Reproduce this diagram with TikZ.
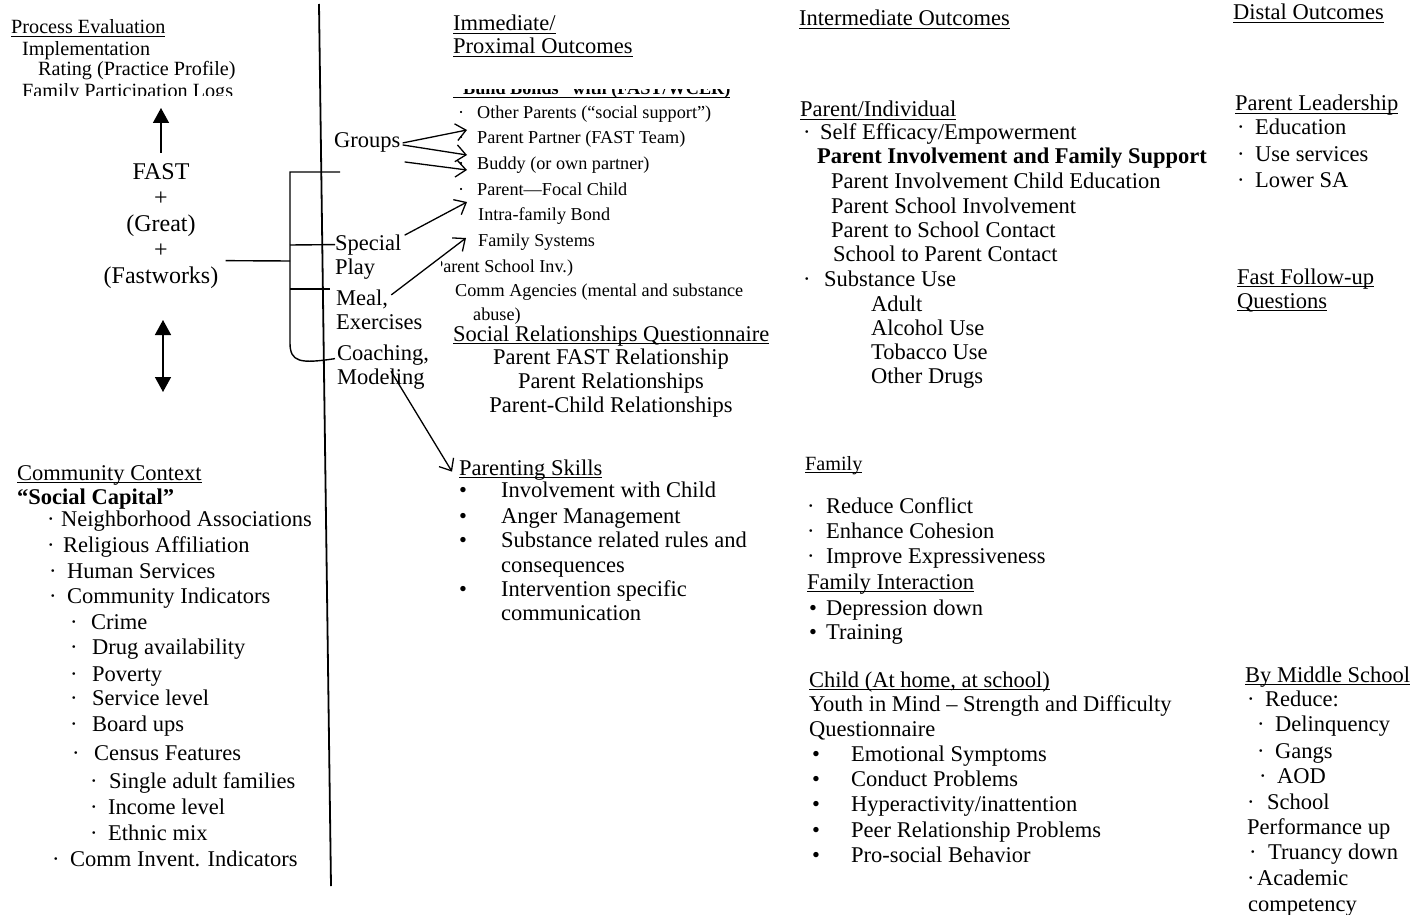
\documentclass[tikz,border=0pt]{standalone}
\usepackage{fontspec}
\setmainfont{Liberation Serif}
\usetikzlibrary{arrows.meta}
\newlength\ulw
\newcommand\myul[1]{\settowidth\ulw{#1}\rlap{\rule[-3pt]{\ulw}{1.2pt}}#1}
\newcommand\bu[1]{\makebox[#1pt][l]{·}}
\newcommand\bbu[1]{\makebox[#1pt][l]{•}}
\begin{document}
\begin{tikzpicture}[x=1pt,y=-1pt,
 every node/.style={inner sep=0pt, anchor=base west},
 m/.style={font=\fontsize{22.5}{24}\selectfont},
 mb/.style={font=\fontsize{22.5}{24}\selectfont\bfseries},
 p/.style={font=\fontsize{20.2}{22}\selectfont},
 s/.style={font=\fontsize{18.2}{20}\selectfont},
 sb/.style={font=\fontsize{18.2}{20}\selectfont\bfseries},
 big/.style={font=\fontsize{24}{26}\selectfont, anchor=base},
 mc/.style={font=\fontsize{22.5}{24}\selectfont, anchor=base},
 ln/.style={line width=1.4pt},
 tri/.style={line width=1.5pt, -{Triangle[width=16pt,length=15pt]}},
 tritwo/.style={line width=1.5pt, {Triangle[width=16pt,length=15pt]}-{Triangle[width=16pt,length=15pt]}},
 barb/.style={line width=1.3pt, -{Straight Barb[length=10pt,width=17pt]}},
]
\useasboundingbox (0,0) rectangle (1414,915);
\fill[white] (0,0) rectangle (1414,915);

% ---------- left column: process evaluation ----------
\node[p] (pe) at (11,34) {\myul{Process Evaluation}};
\node[p] (impl) at (22,56) {Implementation};
\node[p] (rating) at (38,76) {Rating (Practice Profile)};
\begin{scope}
\clip (0,0) rectangle (300,96);
\node[p] (logs) at (22,98) {Family Participation Logs};
\end{scope}

% ---------- FAST block ----------
\node[big] (f1) at (161,179) {FAST};
\node[big] (f2) at (161,205) {+};
\node[big] (f3) at (161,231) {(Great)};
\node[big] (f4) at (161,257) {+};
\node[big] (f5) at (161,283) {(Fastworks)};
\coordinate (uptip) at (161,108);
\draw[tri] ([yshift=10pt]f1.north) -- (uptip);
\coordinate (da1) at (163,320);
\coordinate (da2) at (163,392);
\draw[tritwo] (da1) -- (da2);

% ---------- divider ----------
\draw[line width=1.8pt] (319,4) -- (331,886);

% ---------- activities ----------
\node[m] (grp) at (334,148) {Groups};
\node[m] (sp1) at (335,250) {Special};
\node[m] (sp2) at (335,274) {Play};
\node[m] (me1) at (336,305) {Meal,};
\node[m] (me2) at (336,329) {Exercises};
\node[m] (co1) at (337,360) {Coaching,};
\node[m] (co2) at (337,384) {Modeling};

% bracket
\coordinate (brt) at (290,172);
\coordinate (brtop) at (340,172);
\coordinate (brm) at (290,289);
\coordinate (brme) at (330,289);
\coordinate (brf) at (290,261);
\draw[ln] (brtop) -- (brt) -- (290,343) .. controls (290,362) and (300,364) .. ([shift={(-2,4)}]co1.west);
\draw[ln] (290,245) -- (sp1.west);
\draw[ln] (brm) -- (brme);
\draw[ln] ([shift={(7,-5.5)}]f5.north east) -- (brf);

% ---------- immediate outcomes ----------
\node[m] (im1) at (453,31) {\myul{Immediate/}};
\node[m] (im2) at (453,54) {\myul{Proximal Outcomes}};
\begin{scope}
\clip (440,89.5) rectangle (760,100);
\node[sb] (bb) at (453,95) {\myul{\hspace{10pt}Build Bonds” with (FAST/WCER)}};
\end{scope}
\node[s] (op) at (458,119) {\bu{19}Other Parents (“social support”)};
\node[s] (pp) at (458,144) {\bu{19}Parent Partner (FAST Team)};
\node[s] (bud) at (458,170) {\bu{19}Buddy (or own partner)};
\node[s] (pf) at (458,195) {\bu{19}Parent—Focal Child};
\node[s] (ib) at (478,220) {Intra-family Bond};
\node[s] (fs) at (478,246) {Family Systems};
\begin{scope}
\clip (441,255) rectangle (700,280);
\node[s] (psi) at (433,272) {Parent School Inv.)};
\end{scope}
\node[s] (ca) at (455,296) {Comm Agencies (mental and substance};
\node[s] (ab) at (473,320) {abuse)};
\node[m] (srq) at (453,341) {\myul{Social Relationships Questionnaire}};
\node[mc] (r1) at (611,364) {Parent FAST Relationship};
\node[mc] (r2) at (611,388) {Parent Relationships};
\node[mc] (r3) at (611,412) {Parent-Child Relationships};

\node[m] (psk) at (459,475) {\myul{Parenting Skills}};
\node[m] (k1) at (459,497) {\bbu{42}Involvement with Child};
\node[m] (k2) at (459,523) {\bbu{42}Anger Management};
\node[m] (k3) at (459,547) {\bbu{42}Substance related rules and};
\node[m] (k4) at (501,572) {consequences};
\node[m] (k5) at (459,596) {\bbu{42}Intervention specific};
\node[m] (k6) at (501,620) {communication};

% arrows from activities
\coordinate (ga) at (467,130);
\coordinate (gb) at (467,155);
\coordinate (gc) at (467,170);
\coordinate (gd) at (467,202);
\coordinate (ge) at (466,238);
\draw[barb] ([shift={(2,0)}]grp.east) -- (ga);
\draw[barb] ([shift={(2,2)}]grp.east) -- (gb);
\draw[barb] ([shift={(4,19)}]grp.east) -- (gc);
\draw[barb] ([shift={(3,1)}]sp1.north east) -- (gd);
\draw[barb] ([shift={(3,-4)}]me1.east) -- (ge);
\draw[barb] ([shift={(10,3)}]co2.north) -- ([shift={(-7,2)}]psk.west);

% ---------- intermediate outcomes ----------
\node[m] (io) at (799,26) {\myul{Intermediate Outcomes}};
\node[m] (pi) at (800,117) {\myul{Parent/Individual}};
\node[m] (se) at (803,140) {\bu{17}Self Efficacy/Empowerment};
\node[mb] (pif) at (817,164) {Parent Involvement and Family Support};
\node[m] (i1) at (831,188) {Parent Involvement Child Education};
\node[m] (i2) at (831,213) {Parent School Involvement};
\node[m] (i3) at (831,237) {Parent to School Contact};
\node[m] (i4) at (833,261) {School to Parent Contact};
\node[m] (su) at (803,286) {\bu{21}Substance Use};
\node[m] (u1) at (871,311) {Adult};
\node[m] (u2) at (871,335) {Alcohol Use};
\node[m] (u3) at (871,359) {Tobacco Use};
\node[m] (u4) at (871,383) {Other Drugs};

\node[p] (fam) at (805,470) {\myul{Family}};
\node[m] (fa1) at (807,513) {\bu{19}Reduce Conflict};
\node[m] (fa2) at (807,538) {\bu{19}Enhance Cohesion};
\node[m] (fa3) at (807,563) {\bu{19}Improve Expressiveness};
\node[m] (fi) at (807,589) {\myul{Family Interaction}};
\node[m] (fi1) at (809,615) {\bbu{17}Depression down};
\node[m] (fi2) at (809,639) {\bbu{17}Training};

\node[m] (ch) at (809,687) {\myul{Child (At home, at school)}};
\node[m] (y1) at (809,711) {Youth in Mind – Strength and Difficulty};
\node[m] (y2) at (809,736) {Questionnaire};
\node[m] (ch1) at (812,761) {\bbu{39}Emotional Symptoms};
\node[m] (ch2) at (812,786) {\bbu{39}Conduct Problems};
\node[m] (ch3) at (812,811) {\bbu{39}Hyperactivity/inattention};
\node[m] (ch4) at (812,837) {\bbu{39}Peer Relationship Problems};
\node[m] (ch5) at (812,862) {\bbu{39}Pro-social Behavior};

% ---------- distal outcomes ----------
\node[m] (do) at (1233,20) {\myul{Distal Outcomes}};
\node[m] (pl) at (1235,111) {\myul{Parent Leadership}};
\node[m] (pl1) at (1237,135) {\bu{18}Education};
\node[m] (pl2) at (1237,161) {\bu{18}Use services};
\node[m] (pl3) at (1237,187) {\bu{18}Lower SA};
\node[m] (ff1) at (1237,284) {\myul{Fast Follow-up}};
\node[m] (ff2) at (1237,308) {\myul{Questions}};
\node[m] (ms) at (1245,682) {\myul{By Middle School}};
\node[m] (ms1) at (1247,706) {\bu{18}Reduce:};
\node[m] (ms2) at (1257,731) {\bu{18}Delinquency};
\node[m] (ms3) at (1257,758) {\bu{18}Gangs};
\node[m] (ms4) at (1259,783) {\bu{18}AOD};
\node[m] (ms5) at (1247,809) {\bu{20}School};
\node[m] (ms6) at (1247,834) {Performance up};
\node[m] (ms7) at (1249,859) {\bu{19}Truancy down};
\node[m] (ms8) at (1247,885) {\bu{10}Academic};
\node[m] (ms9) at (1248,911) {competency};

% ---------- community context ----------
\node[m] (cc) at (17,480) {\myul{Community Context}};
\node[mb] (sc) at (17,504) {“Social Capital”};
\node[m] (c1) at (47,526) {\bu{14}Neighborhood Associations};
\node[m] (c2) at (47,552) {\bu{16}Religious Affiliation};
\node[m] (c3) at (49,578) {\bu{18}Human Services};
\node[m] (c4) at (49,603) {\bu{18}Community Indicators};
\node[m] (c5) at (70,629) {\bu{21}Crime};
\node[m] (c6) at (70,654) {\bu{22}Drug availability};
\node[m] (c7) at (70,681) {\bu{22}Poverty};
\node[m] (c8) at (70,705) {\bu{22}Service level};
\node[m] (c9) at (70,731) {\bu{22}Board ups};
\node[m] (c10) at (72,760) {\bu{22}Census Features};
\node[m] (c11) at (90,788) {\bu{19}Single adult families};
\node[m] (c12) at (90,814) {\bu{18}Income level};
\node[m] (c13) at (90,840) {\bu{18}Ethnic mix};
\node[m] (c14) at (52,866) {\bu{18}Comm Invent. Indicators};
\end{tikzpicture}
\end{document}
